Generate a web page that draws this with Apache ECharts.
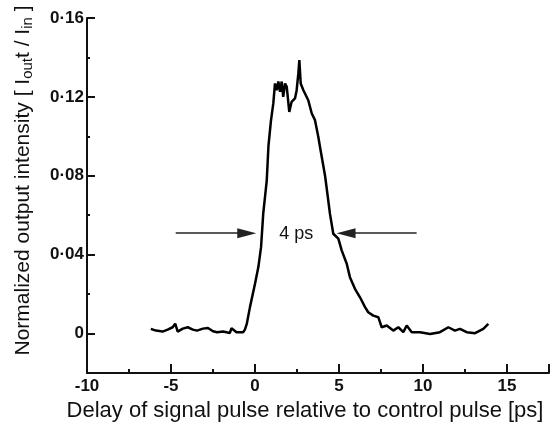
<!DOCTYPE html>
<html>
<head>
<meta charset="utf-8">
<script src="https://cdn.jsdelivr.net/npm/echarts@6/dist/echarts.min.js"></script>
<style>
  html, body { margin: 0; padding: 0; background: #fff; }
  #chart { width: 555px; height: 426px; }
</style>
</head>
<body>
<div id="chart"></div>
<script>
// trace: delay [ps] vs normalized intensity
const delay = [
  -6.2, -5.9, -5.5, -5.2, -4.9, -4.75, -4.6, -4.3, -4.0, -3.7, -3.45, -3.1, -2.8, -2.5, -2.25, -1.9, -1.5, -1.4, -1.1, -0.7,
  -0.6, -0.49, -0.3, 0.0, 0.2, 0.36, 0.49, 0.7, 0.8, 0.95, 1.09, 1.19, 1.29, 1.39, 1.49, 1.59, 1.68, 1.79, 1.89, 2.04,
  2.18, 2.38, 2.48, 2.58, 2.64, 2.72, 2.88, 3.17, 3.38, 3.57, 3.77, 3.87, 4.17, 4.36, 4.46, 4.66, 4.96, 5.16, 5.46, 5.65,
  5.95, 6.25, 6.55, 6.74, 7.04, 7.34, 7.54, 7.84, 8.23, 8.53, 8.83, 9.03, 9.33, 9.82, 10.42, 11.01, 11.51, 11.9, 12.2, 12.6,
  13.1, 13.59, 13.89
];
const intensity = [
  0.0024, 0.0015, 0.0010, 0.0020, 0.0032, 0.0050, 0.0010, 0.0025, 0.0032, 0.0020, 0.0015, 0.0025, 0.0028, 0.0012, 0.0007, 0.0010, 0.0003, 0.0027, 0.0007, 0.0007,
  0.0020, 0.0049, 0.0134, 0.0252, 0.0337, 0.0438, 0.0608, 0.0777, 0.0950, 0.1080, 0.1167, 0.1268, 0.1234, 0.1278, 0.1226, 0.1278, 0.1200, 0.1268, 0.1251, 0.1124,
  0.1175, 0.1192, 0.1234, 0.1319, 0.1387, 0.1268, 0.1234, 0.1183, 0.1116, 0.1082, 0.0997, 0.0946, 0.0800, 0.0676, 0.0608, 0.0506, 0.0481, 0.0422, 0.0354, 0.0286,
  0.0227, 0.0184, 0.0134, 0.0108, 0.0091, 0.0083, 0.0032, 0.0041, 0.0015, 0.0032, 0.0007, 0.0041, 0.0007, 0.0007, -0.0002, 0.0007, 0.0032, 0.0015, 0.0024, 0.0007,
  0.0002, 0.0024, 0.0049
];

const xLabels = [-10, -5, 0, 5, 10, 15];
const xMajorTicks = [-10, -5, 0, 5, 10, 15, 17.5];
const yLabels = [0, 0.04, 0.08, 0.12, 0.16];

// FWHM annotation
const arrowY = 0.0509;
const leftArrow = [-4.72, -0.49];
const rightArrow = [9.62, 5.42];
const widthLabel = '4 ps';
const widthLabelAt = [2.45, 0.0505];

const font = 'Liberation Sans, Arial, Helvetica, sans-serif';
const ink = '#111';

const chart = echarts.init(document.getElementById('chart'), undefined, { renderer: 'canvas' });

const fmtY = v => (Math.abs(v) < 1e-9 ? '0' : '0·' + String(Math.round(v * 100)).padStart(2, '0'));

const arrow = (from, to) => [
  { coord: [from, arrowY], symbol: 'none' },
  { coord: [to, arrowY], symbol: 'triangle', symbolSize: [10, 19] },
];

chart.setOption({
  animation: false,
  grid: { left: 87, right: 6, top: 18, bottom: 53, containLabel: false, outerBoundsMode: 'none' },
  xAxis: [
    {
      type: 'value',
      min: -10,
      max: 17.5,
      interval: 2.5,
      splitLine: { show: false },
      axisLine: { onZero: false, lineStyle: { color: ink, width: 2 } },
      axisTick: { inside: true, length: 4, lineStyle: { color: ink, width: 2 } },
      axisLabel: {
        customValues: xLabels,
        margin: 5,
        color: ink,
        fontFamily: font,
        fontWeight: 'bold',
        fontSize: 17,
      },
      name: 'Delay of signal pulse relative to control pulse [ps]',
      nameLocation: 'middle',
      nameGap: 24,
      nameTextStyle: { color: ink, fontFamily: font, fontSize: 22, padding: [0, 26, 0, 0] },
    },
    {
      type: 'value',
      position: 'bottom',
      min: -10,
      max: 17.5,
      interval: 2.5,
      splitLine: { show: false },
      axisLine: { show: false, onZero: false },
      axisTick: { customValues: xMajorTicks, inside: true, length: 9, lineStyle: { color: ink, width: 2 } },
      axisLabel: { show: false },
    },
  ],
  yAxis: [
    {
      type: 'value',
      min: -0.02,
      max: 0.16,
      interval: 0.02,
      splitLine: { show: false },
      axisLine: { onZero: false, lineStyle: { color: ink, width: 2 } },
      axisTick: { inside: true, length: 3, lineStyle: { color: ink, width: 2 } },
      axisLabel: {
        customValues: yLabels,
        formatter: fmtY,
        margin: 3,
        color: ink,
        fontFamily: font,
        fontWeight: 'bold',
        fontSize: 17,
      },
      name: 'Normalized output intensity [ I{sub|out}t / I{sub|in} ]',
      nameLocation: 'middle',
      nameGap: 52,
      nameTextStyle: {
        color: ink,
        fontFamily: font,
        fontSize: 21,
        padding: [0, 0, 0, 30],
        rich: { sub: { fontSize: 15, fontFamily: font, color: ink, verticalAlign: 'bottom', padding: [8, 0, 0, 0] } },
      },
    },
    {
      type: 'value',
      position: 'left',
      min: -0.02,
      max: 0.16,
      interval: 0.02,
      splitLine: { show: false },
      axisLine: { show: false, onZero: false },
      axisTick: { customValues: yLabels, inside: true, length: 8, lineStyle: { color: ink, width: 2 } },
      axisLabel: { show: false },
    },
  ],
  series: [
    {
      type: 'line',
      data: delay.map((d, i) => [d, intensity[i]]),
      showSymbol: false,
      lineStyle: { color: '#000', width: 2.5 },
      markLine: {
        silent: true,
        lineStyle: { color: '#222', width: 1.6, type: 'solid' },
        label: { show: false },
        data: [arrow(leftArrow[0], leftArrow[1]), arrow(rightArrow[0], rightArrow[1])],
      },
      markPoint: {
        silent: true,
        symbol: 'circle',
        symbolSize: 1,
        itemStyle: { color: 'rgba(0,0,0,0)' },
        label: { show: true, position: 'inside', formatter: widthLabel, color: ink, fontFamily: font, fontSize: 18 },
        data: [{ coord: widthLabelAt }],
      },
    },
  ],
});
</script>
</body>
</html>
